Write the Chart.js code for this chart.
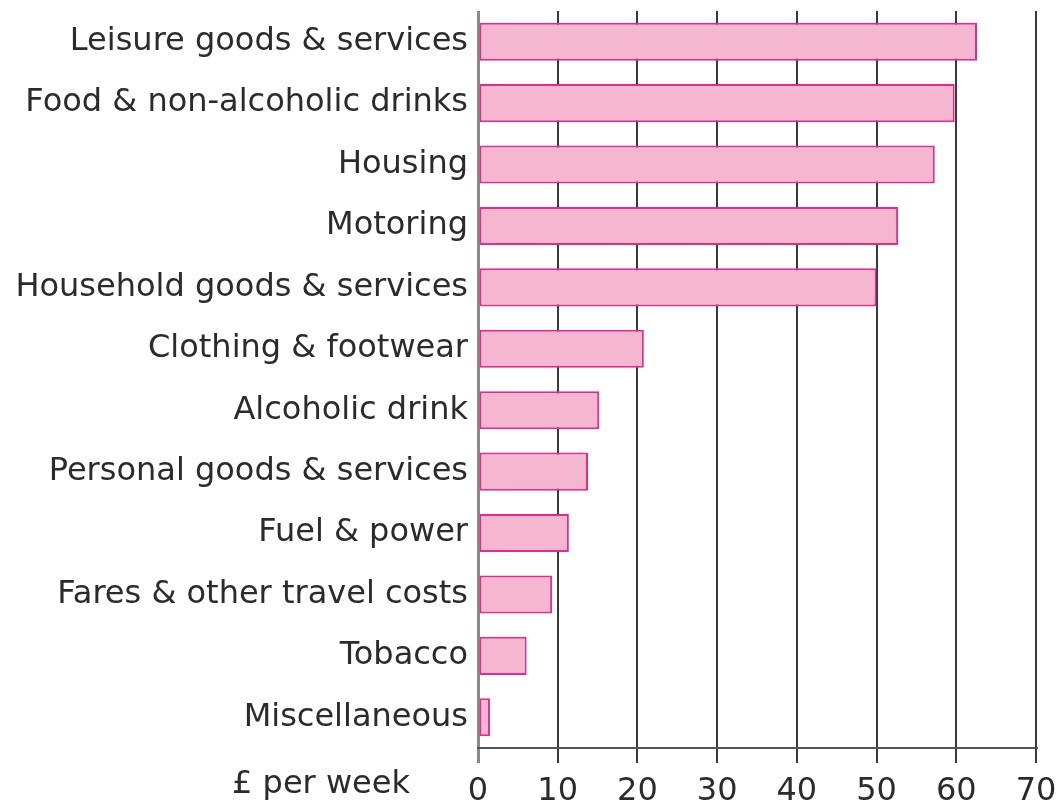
<!DOCTYPE html>
<html>
<head>
<meta charset="utf-8">
<script src="https://cdn.jsdelivr.net/npm/chart.js@4"></script>
<style>
  html, body { margin: 0; padding: 0; background: #ffffff; }
  #wrap { width: 1062px; height: 805px; position: relative; }
</style>
</head>
<body>
<div id="wrap"><canvas id="c" width="1062" height="805"></canvas></div>
<script>
const categories = [
  "Leisure goods & services",
  "Food & non-alcoholic drinks",
  "Housing",
  "Motoring",
  "Household goods & services",
  "Clothing & footwear",
  "Alcoholic drink",
  "Personal goods & services",
  "Fuel & power",
  "Fares & other travel costs",
  "Tobacco",
  "Miscellaneous"
];
const spending = [62.6, 59.8, 57.3, 52.7, 50.0, 20.8, 15.2, 13.8, 11.4, 9.3, 6.1, 1.5];
const xTicks = [0, 10, 20, 30, 40, 50, 60, 70];
const unitLabel = "£ per week";

const FONT = "'DejaVu Sans', 'Liberation Sans', Arial, sans-serif";
const TEXT = "#2b2b2b";

const unitPlugin = {
  id: 'unitLabel',
  afterDraw(chart) {
    const ctx = chart.ctx;
    const a = chart.chartArea;
    ctx.save();
    ctx.font = "32px " + FONT;
    ctx.fillStyle = TEXT;
    ctx.textAlign = 'right';
    ctx.textBaseline = 'alphabetic';
    ctx.fillText(unitLabel, a.left - 68, a.bottom + 45);
    ctx.restore();
  }
};

new Chart(document.getElementById('c'), {
  type: 'bar',
  data: {
    labels: categories,
    datasets: [{
      data: spending,
      backgroundColor: '#f5b6d0',
      borderColor: '#e8288c',
      borderWidth: 2,
      borderSkipped: false,
      categoryPercentage: 1.0,
      barPercentage: 0.62
    }]
  },
  options: {
    indexAxis: 'y',
    responsive: false,
    animation: false,
    devicePixelRatio: 1,
    layout: { padding: { left: 0, right: 26, top: 11, bottom: 0 } },
    plugins: {
      legend: { display: false },
      tooltip: { enabled: false }
    },
    scales: {
      x: {
        min: 0,
        max: 70,
        afterBuildTicks(scale) { scale.ticks = xTicks.map(v => ({ value: v })); },
        afterFit(scale) { scale.height = 57; scale.paddingLeft = 0; scale.paddingRight = 0; },
        grid: {
          drawOnChartArea: true,
          drawTicks: true,
          tickLength: 15,
          color: (c) => (c.tick && c.tick.value === 0) ? '#8a8a8a' : '#3a3a3a',
          lineWidth: (c) => (c.tick && c.tick.value === 0) ? 3 : 2
        },
        border: { display: true, color: '#555555', width: 2 },
        ticks: {
          font: { size: 32, family: FONT },
          color: TEXT,
          padding: 9,
          maxRotation: 0,
          autoSkip: false
        }
      },
      y: {
        afterFit(scale) { scale.width = 478; scale.paddingTop = 0; scale.paddingBottom = 0; },
        grid: { display: false, drawTicks: false },
        border: { display: false },
        ticks: {
          font: { size: 32, family: FONT },
          color: TEXT,
          padding: 10,
          autoSkip: false
        }
      }
    }
  },
  plugins: [unitPlugin]
});
</script>
</body>
</html>
